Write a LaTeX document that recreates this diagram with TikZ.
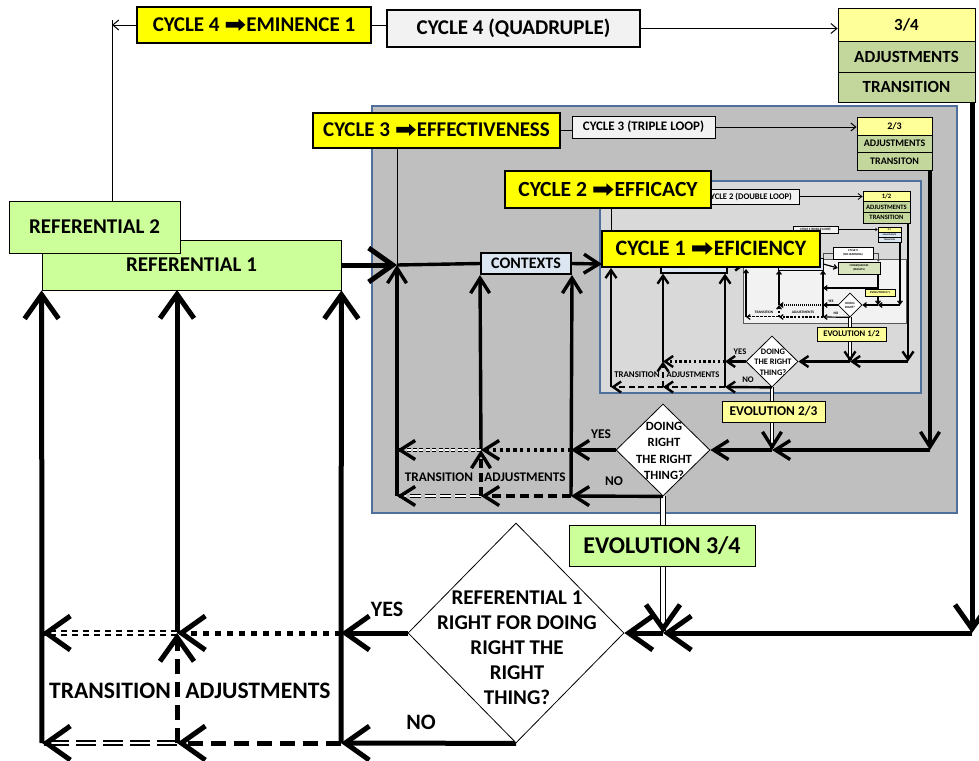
\documentclass[tikz,border=0pt]{standalone}
\usepackage{fontspec}
\setmainfont{Carlito}
\newfontfamily\symf{DejaVu Sans}
\usetikzlibrary{arrows.meta,shapes.geometric}
\pgfdeclarelayer{bg}
\pgfsetlayers{bg,main}

\definecolor{cyel}{HTML}{FFFF00}
\definecolor{lyel}{HTML}{FFFF99}
\definecolor{olive}{HTML}{C3D69B}
\definecolor{lgreen}{HTML}{CCFF99}
\definecolor{gthree}{HTML}{BFBFBF}
\definecolor{gtwo}{HTML}{D9D9D9}
\definecolor{gone}{HTML}{F2F2F2}
\definecolor{frameblue}{HTML}{4F709C}
\definecolor{lblue}{HTML}{DCE6F2}
\definecolor{csqc}{HTML}{D7E4BD}

\newcommand\rarr{\raisebox{-0.05em}{\scalebox{1.25}[1.1]{\symf ➡}}}

\tikzset{
  fs/.style 2 args={font=\bfseries\fontsize{#1}{#2}\selectfont},
  sz/.style 2 args={minimum width=#1, minimum height=#2},
  box/.style={draw, line width=0.4pt, inner sep=0pt, align=center},
  ybox/.style={box, fill=cyel, line width=0.7pt},
  dia/.style={diamond, draw, line width=0.4pt, fill=white, inner sep=0pt},
  % connectors of the four loops, from the outer loop (4) to the inner one (1)
  a4/.style={line width=2.5pt, -{Straight Barb[length=12pt,width=17pt]}},
  a3/.style={line width=1.7pt, -{Straight Barb[length=7.5pt,width=9.5pt]}},
  a2/.style={line width=1.2pt, -{Straight Barb[length=4pt,width=5.5pt]}},
  a1/.style={line width=0.6pt, -{Straight Barb[length=1.6pt,width=2.4pt]}},
  tn/.style={line width=0.5pt},
  at4/.style={tn, -{Straight Barb[length=3pt,width=5pt]}},
  at3/.style={tn, -{Straight Barb[length=2.5pt,width=4pt]}},
  at2/.style={tn, line width=0.4pt, -{Straight Barb[length=2pt,width=3pt]}},
  at1/.style={line width=0.25pt, -{Straight Barb[length=1pt,width=1.5pt]}},
  dd4/.style={line width=0.9pt, double=white, double distance=1.2pt},
  dd3/.style={line width=0.55pt, double=white, double distance=0.7pt},
  dd1/.style={line width=0.2pt, double=white, double distance=0.25pt},
  ev4/.style={line width=0.8pt, double=white, double distance=1.6pt},
  ev3/.style={line width=0.6pt, double=white, double distance=1.1pt},
  ev2/.style={line width=0.45pt, double=white, double distance=0.8pt},
}

\begin{document}
\begin{tikzpicture}[x=0.5pt,y=-0.5pt]
\useasboundingbox (0,0) rectangle (979,760);

% ---------- loop 4 : quadruple ----------
\node[ybox, sz={117pt}{18pt}, fs={10.5pt}{12pt}] (c4y) at (254,25) {CYCLE 4 \rarr EMINENCE 1};
\node[box, line width=1pt, fill=gone, sz={126.5pt}{18.5pt}, fs={10.5pt}{12pt}] (c4q) at (513.5,28.5) {CYCLE 4 (QUADRUPLE)};
\node[box, fill=lyel, sz={68.5pt}{16.5pt}, fs={8.5pt}{10pt}] (s4a) at (906.5,24.5) {3/4};
\node[box, fill=olive, sz={68.5pt}{15.5pt}, fs={8.5pt}{10pt}] (s4b) at (906.5,56.5) {ADJUSTMENTS};
\node[box, fill=olive, sz={68.5pt}{15pt}, fs={8.5pt}{10pt}] (s4c) at (906.5,87) {TRANSITION};
\node[box, fill=lgreen, sz={149.5pt}{25pt}, fs={10.5pt}{12pt}] (ref1) at (191.5,265) {REFERENTIAL 1};
\node[box, fill=lgreen, sz={85.5pt}{26pt}, fs={10.5pt}{12pt}] (ref2) at (94.5,227) {REFERENTIAL 2};
\node[dia, minimum width=108pt, minimum height=110pt] (d4) at (516,633) {};
\node[fs={10.5pt}{12.5pt}, align=center] (d4t) at (517,648) {REFERENTIAL 1\\RIGHT FOR DOING\\RIGHT THE\\RIGHT\\THING?};
\node[fs={11pt}{12pt}] (yes4) at (387,609) {YES};
\node[fs={11pt}{12pt}] (no4) at (421,722) {NO};
\node[fs={11.8pt}{13pt}] (tr4) at (110,691) {TRANSITION};
\node[fs={11.8pt}{13pt}] (ad4) at (258,691) {ADJUSTMENTS};

% ---------- loop 3 : triple ----------
\node[ybox, sz={123.5pt}{17.5pt}, fs={10.5pt}{12pt}] (c3y) at (436.5,130.5) {CYCLE 3 \rarr EFFECTIVENESS};
\node[box, fill=gone, sz={71.5pt}{11pt}, fs={6.5pt}{7pt}] (c3t) at (643.5,127) {CYCLE 3 (TRIPLE LOOP)};
\node[box, fill=lyel, sz={37.5pt}{9pt}, fs={5pt}{6pt}] (s3a) at (894.5,126) {2/3};
\node[box, fill=olive, sz={37.5pt}{8.5pt}, fs={5pt}{6pt}] (s3b) at (894.5,143.5) {ADJUSTMENTS};
\node[box, fill=olive, sz={37.5pt}{9pt}, fs={5pt}{6pt}] (s3c) at (894.5,161) {TRANSITON};
\node[box, line width=1pt, fill=lblue, sz={45pt}{10.5pt}, fs={8pt}{9pt}] (ctx) at (526,263.5) {CONTEXTS};
\node[dia, minimum width=47pt, minimum height=46pt] (d3) at (663,450) {};
\node[fs={6.3pt}{8.2pt}, align=center] (d3t) at (664,451) {DOING\\RIGHT\\THE RIGHT\\THING?};
\node[fs={6.7pt}{7pt}] (yes3) at (601,434) {YES};
\node[fs={6.7pt}{7pt}] (no3) at (614,481) {NO};
\node[fs={6.6pt}{7pt}] (tr3) at (439,477) {TRANSITION};
\node[fs={6.6pt}{7pt}] (ad3) at (525,477) {ADJUSTMENTS};

% ---------- loop 2 : double ----------
\node[box, fill=gone, sz={50pt}{7.5pt}, fs={4.3pt}{5pt}] (c2t) at (749,196.5) {CYCLE 2 (DOUBLE LOOP)};
\node[ybox, sz={103pt}{18.5pt}, fs={10.8pt}{12pt}] (c2y) at (608,189.5) {CYCLE 2 \rarr EFFICACY};
\node[box, fill=lyel, sz={23.5pt}{5.33pt}, fs={3.3pt}{4pt}] (s2a) at (886.5,196.33) {1/2};
\node[box, fill=olive, sz={23.5pt}{5.33pt}, fs={3.3pt}{4pt}] (s2b) at (886.5,207) {ADJUSTMENTS};
\node[box, fill=olive, sz={23.5pt}{5.33pt}, fs={3.3pt}{4pt}] (s2c) at (886.5,217.67) {TRANSITION};
\node[box, line width=0.6pt, fill=lblue, sz={33pt}{7.5pt}, fs={4.5pt}{5pt}] (asm) at (694,265.5) {ASSUMPTIONS};
\node[dia, minimum width=26pt, minimum height=25.5pt] (d2) at (772,361.5) {};
\node[fs={4.2pt}{5.3pt}, align=center] (d2t) at (773,362) {DOING\\THE RIGHT\\THING?};
\node[fs={4.3pt}{5pt}] (yes2) at (740,352) {YES};
\node[fs={4.3pt}{5pt}] (no2) at (748,380) {NO};
\node[fs={4.4pt}{5pt}] (tr2) at (637,375) {TRANSITION};
\node[fs={4.3pt}{5pt}] (ad2) at (693,375) {ADJUSTMENTS};

% ---------- loop 1 : single ----------
\node[box, line width=0.3pt, fill=gone, sz={22.5pt}{3.5pt}, fs={1.6pt}{2pt}] (c1t) at (815.5,229.5) {CYCLE 1 (SINGLE LOOP)};
\node[box, line width=0.3pt, fill=lyel, sz={11.5pt}{2.5pt}, fs={1.2pt}{1.5pt}] (s1a) at (889.5,229.5) {0/1};
\node[box, line width=0.3pt, fill=lblue, sz={11.5pt}{2.5pt}, fs={1.1pt}{1.5pt}] (s1b) at (889.5,234.5) {ADJUSTMENTS};
\node[box, line width=0.3pt, fill=lblue, sz={11.5pt}{2.5pt}, fs={1.1pt}{1.5pt}] (s1c) at (889.5,239.5) {TRANSITION};
\node[box, line width=0.3pt, fill=lblue, sz={22.5pt}{6pt}] (blf) at (800.5,264) {};
\node[box, line width=0.3pt, fill=csqc, sz={21pt}{6pt}, fs={1.4pt}{1.8pt}] (csq) at (859,268) {CONSEQUENCES\\(RESULTS)};
\node[box, line width=0.3pt, fill=white, sz={20pt}{6pt}, fs={1.5pt}{2pt}] (c0) at (853,253) {CYCLE 0\\(NO LEARNING)};
\node[dia, line width=0.3pt, minimum width=12pt, minimum height=12pt] (d1) at (850,305) {};
\node[fs={1.6pt}{2pt}, align=center] (d1t) at (850,305.5) {DOING\\RIGHT?};
\node[box, line width=0.3pt, fill=lyel, sz={15pt}{3.5pt}, fs={1.5pt}{2pt}] (ev01) at (880,292.5) {EVOLUTION 0/1};
\node[fs={1.8pt}{2pt}] (yes1) at (831,301) {YES};
\node[fs={1.8pt}{2pt}] (no1) at (836,313) {NO};
\node[fs={1.8pt}{2pt}] (tr1) at (764,312) {TRANSITION};
\node[fs={1.8pt}{2pt}] (ad1) at (803,312) {ADJUSTMENTS};

% evolution boxes and the front yellow title
\node[box, fill=lgreen, sz={93pt}{20.5pt}, fs={12pt}{14pt}] (ev34) at (662,545.5) {EVOLUTION 3/4};
\node[box, fill=lyel, sz={51.5pt}{10.5pt}, fs={6.7pt}{7pt}] (ev23) at (773.5,411.5) {EVOLUTION 2/3};
\node[box, fill=lyel, sz={34.5pt}{7pt}, fs={4.3pt}{5pt}] (ev12) at (851.5,334) {EVOLUTION 1/2};
\node[ybox, sz={109pt}{18pt}, fs={11pt}{12pt}] (c1y) at (711,249) {CYCLE 1 \rarr EFICIENCY};

% junction points
\coordinate (K4) at (112,25);  \coordinate (K4t) at (112,20);
\coordinate (J3) at (397,265); \coordinate (J2) at (602,264); \coordinate (J1) at (745,264.5);
\coordinate (L4ay) at (42,633);  \coordinate (L4by) at (177,633); \coordinate (L4cy) at (341,633);
\coordinate (L4an) at (42,743);  \coordinate (L4bn) at (177,743); \coordinate (L4cn) at (341,743);
\coordinate (L4bt) at (177,290); \coordinate (L4j) at (663,633); \coordinate (L4r) at (972,633); \coordinate (L4s) at (972,102);
\coordinate (L3ay) at (397,450); \coordinate (L3by) at (481,450); \coordinate (L3cy) at (571,450);
\coordinate (L3an) at (397,496); \coordinate (L3bn) at (481,496); \coordinate (L3cn) at (571,496);
\coordinate (L3j) at (772,450); \coordinate (L3r) at (930,450); \coordinate (L3s) at (930,170);
\coordinate (L2by) at (663,361.5); \coordinate (L2cy) at (725,361.5);
\coordinate (L2an) at (611,387); \coordinate (L2bn) at (663,387); \coordinate (L2cn) at (725,387);
\coordinate (L2at) at (611,268); \coordinate (L2j) at (850,361.5); \coordinate (L2r) at (908,361.5); \coordinate (L2s) at (908,223);
\coordinate (L1by) at (779,305); \coordinate (L1cy) at (823,305);
\coordinate (L1an) at (746,317); \coordinate (L1bn) at (779,317); \coordinate (L1cn) at (823,317);
\coordinate (L1at) at (746,269); \coordinate (L1j) at (878,305); \coordinate (L1r) at (900,305); \coordinate (L1s) at (900,242);
\coordinate (L1k) at (878,288); \coordinate (L1m) at (823,288);

\begin{pgfonlayer}{bg}
% nested frames
\draw[draw=frameblue, line width=1pt, fill=gthree] (372,106) rectangle (957,513);
\draw[draw=frameblue, line width=1pt, fill=gtwo] (600,181) rectangle (921,393);
\draw[draw=black!65, line width=0.5pt, fill=gone] (743,259) rectangle (906,323);

% loop 4
\draw[at4] (c4y.west) -- (K4);
\draw[tn] (K4t) -- (K4t |- ref2.north);
\draw[tn] (c4y.east) -- (c4y.east -| c4q.west);
\draw[at4] (c4q.east) -- (c4q.east -| s4a.west);
\draw[a4] (ref1.east) -- (J3);
\draw[a4] (L4an) -- (ref1.south west);
\draw[a4] (L4by) -- (L4bt);
\draw[a4] (L4cn) -- (ref1.south east);
\draw[a4] (d4.west) -- (L4cy);
\draw[a4, dash pattern=on 3pt off 3pt] (L4cy) -- (L4by);
\draw[dd4, dash pattern=on 3pt off 2.5pt] (L4by) -- ([xshift=2pt]L4ay);
\draw[a4] ([xshift=1pt]L4ay) -- (L4ay);
\draw[a4] (d4.south) -- (L4cn);
\draw[a4, dash pattern=on 7.5pt off 4pt] (L4cn) -- (L4bn);
\draw[dd4, dash pattern=on 10pt off 3.5pt] (L4bn) -- ([xshift=2pt]L4an);
\draw[a4] ([xshift=1pt]L4an) -- (L4an);
\draw[a4, dash pattern=on 7.5pt off 4pt] (L4bn) -- (L4by);
\draw[a4] (L4s) -- (L4r);
\draw[a4] (L4r) -- (L4j);
\draw[a4] (L4j) -- (d4.east);
\draw[ev4] (d3.south) -- ([yshift=2pt]L4j);
\draw[a4] ([yshift=1pt]L4j) -- (L4j);

% loop 3
\draw[tn] (J3 |- c3y.south) -- (J3);
\draw[tn] (c3y.east) -- (c3y.east -| c3t.west);
\draw[at3] (c3t.east) -- (c3t.east -| s3a.west);
\draw[line width=1.7pt] (J3) -- (ctx.west);
\draw[a3] (ctx.east) -- (J2);
\draw[a3] (L3an) -- (J3);
\draw[a3] (L3by) -- (ctx.south west);
\draw[a3] (L3cn) -- (ctx.south east);
\draw[a3] (d3.west) -- (L3cy);
\draw[a3, dash pattern=on 1.7pt off 1.7pt] (L3cy) -- (L3by);
\draw[dd3, dash pattern=on 2pt off 1.2pt] (L3by) -- ([xshift=1.5pt]L3ay);
\draw[a3] ([xshift=1pt]L3ay) -- (L3ay);
\draw[a3] (d3.south) -- (L3cn);
\draw[a3, dash pattern=on 4.5pt off 2.5pt] (L3cn) -- (L3bn);
\draw[dd3, dash pattern=on 5.5pt off 2pt] (L3bn) -- ([xshift=1.5pt]L3an);
\draw[a3] ([xshift=1pt]L3an) -- (L3an);
\draw[a3, dash pattern=on 4.5pt off 2.5pt] (L3bn) -- (L3by);
\draw[a3] (L3s) -- (L3r);
\draw[a3] (L3r) -- (L3j);
\draw[a3] (L3j) -- (d3.east);
\draw[ev3] (d2.south) -- ([yshift=1.5pt]L3j);
\draw[a3] ([yshift=1pt]L3j) -- (L3j);

% loop 2
\draw[tn] (L2at |- c2y.south) -- (L2at |- c1y.north);
\draw[at2] (c2t.east) -- (c2t.east -| s2a.west);
\draw[line width=1.2pt] (J2) -- (asm.west);
\draw[a2] (asm.east) -- (J1);
\draw[a2] (L2an) -- (L2at);
\draw[a2] (L2by) -- (L2by |- asm.south);
\draw[a2] (L2cn) -- (L2cy |- asm.south);
\draw[a2] (d2.west) -- (L2cy);
\draw[a2, dash pattern=on 1.2pt off 1.2pt] (L2cy) -- (L2by);
\draw[a2] (d2.south) -- (L2cn);
\draw[a2, dash pattern=on 3pt off 1.7pt] (L2cn) -- (L2bn);
\draw[a2, dash pattern=on 3pt off 1.7pt] (L2bn) -- (L2an);
\draw[a2, dash pattern=on 3pt off 1.7pt] (L2bn) -- (L2by);
\draw[a2] (L2s) -- (L2r);
\draw[a2] (L2r) -- (L2j);
\draw[a2] (L2j) -- (d2.east);
\draw[ev2] (d1.south) -- ([yshift=1pt]L2j);
\draw[a2] ([yshift=0.8pt]L2j) -- (L2j);

% loop 1
\draw[at1] (c1t.east) -- (c1t.east -| s1a.west);
\draw[line width=0.6pt] (J1) -- (blf.west);
\draw[a1] (blf.east) -- (csq.west);
\draw[line width=0.3pt, black!70] (blf.north east) |- (c0.west);
\draw[line width=0.3pt, black!70, -{Straight Barb[length=1pt,width=1.5pt]}] (c0.east) -| ([xshift=-1pt]csq.north east);
\draw[line width=0.6pt] (L1k |- csq.south) -- (L1k);
\draw[a1] (L1k) -- (L1m);
\draw[a1] (L1k) -- (L1j);
\draw[a1] (L1an) -- (L1at);
\draw[a1] (L1by) -- (L1by |- blf.south);
\draw[a1] (L1cn) -- (L1cy |- blf.south);
\draw[a1] (d1.west) -- (L1cy);
\draw[a1, dash pattern=on 0.5pt off 0.5pt] (L1cy) -- (L1by);
\draw[a1] (d1.south) -- (L1cn);
\draw[a1, dash pattern=on 1.2pt off 0.7pt] (L1cn) -- (L1bn);
\draw[dd1, dash pattern=on 1.4pt off 0.6pt] (L1bn) -- ([xshift=0.5pt]L1an);
\draw[a1] ([xshift=0.4pt]L1an) -- (L1an);
\draw[a1, dash pattern=on 1.2pt off 0.7pt] (L1bn) -- (L1by);
\draw[a1] (L1s) -- (L1r);
\draw[a1] (L1r) -- (L1j);
\draw[a1] (L1j) -- (d1.east);
\end{pgfonlayer}
\end{tikzpicture}
\end{document}
